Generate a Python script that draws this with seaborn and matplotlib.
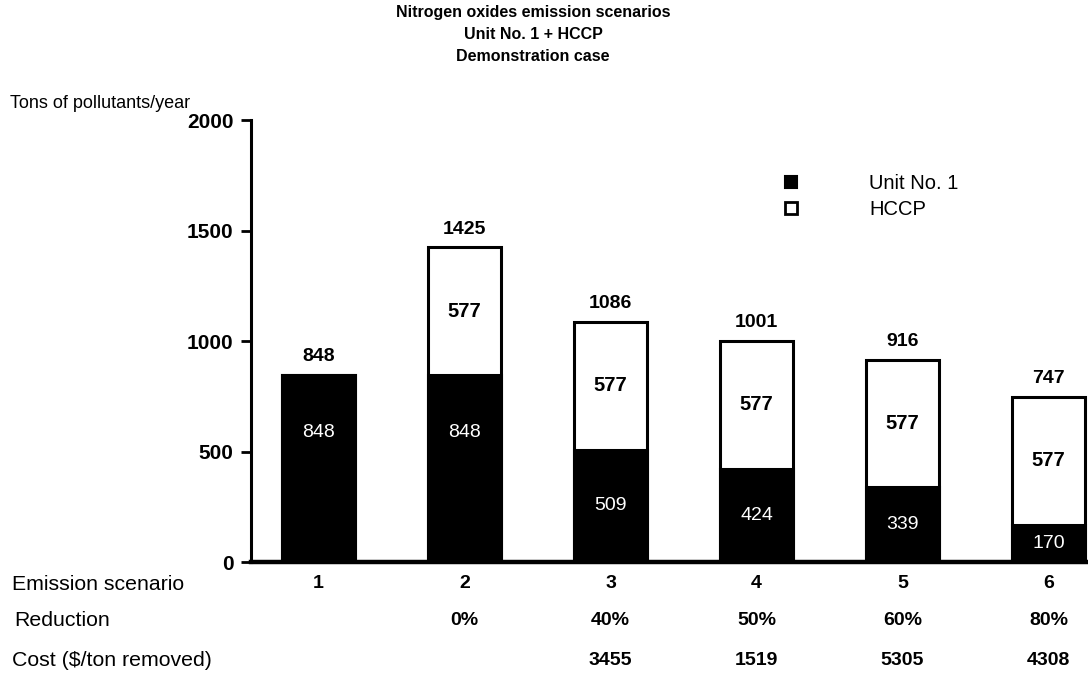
import matplotlib
matplotlib.use("Agg")
import matplotlib.pyplot as plt
from matplotlib.lines import Line2D
import seaborn as sns
import pandas as pd

# Scenario data (tons of NOx per year)
scenarios = ["1", "2", "3", "4", "5", "6"]
unit1 = [848, 848, 509, 424, 339, 170]
hccp = [0, 577, 577, 577, 577, 577]
reduction = ["", "0%", "40%", "50%", "60%", "80%"]
cost = ["", "", "3455", "1519", "5305", "4308"]

totals = [u + h for u, h in zip(unit1, hccp)]
df = pd.DataFrame({"scenario": scenarios, "unit1": unit1, "hccp": hccp, "total": totals})

sns.set_theme(style="white")
plt.rcParams["font.family"] = ["Liberation Sans", "DejaVu Sans"]
plt.rcParams["text.color"] = "black"
plt.rcParams["axes.labelcolor"] = "black"
plt.rcParams["xtick.color"] = "black"
plt.rcParams["ytick.color"] = "black"

fig = plt.figure(figsize=(10.88, 6.79), dpi=100)
ax = fig.add_axes([0.231, 0.172, 0.769, 0.651])

bar_w = 0.5
# Full stack height drawn as white outlined bars, Unit No. 1 overlaid in black
sns.barplot(data=df, x="scenario", y="total", color="white", edgecolor="black",
            linewidth=2.2, width=bar_w, saturation=1, ax=ax)
sns.barplot(data=df, x="scenario", y="unit1", color="black", edgecolor="black",
            linewidth=2.2, width=bar_w, saturation=1, ax=ax)

ax.set_ylim(0, 2000)
ax.set_xlim(-0.46, 5.27)
ax.set_yticks([0, 500, 1000, 1500, 2000])
ax.set_xlabel("")
ax.set_ylabel("")

for side in ["top", "right"]:
    ax.spines[side].set_visible(False)
ax.spines["left"].set_linewidth(2.2)
ax.spines["bottom"].set_linewidth(3.2)
ax.spines["left"].set_color("black")
ax.spines["bottom"].set_color("black")

ax.tick_params(axis="y", direction="out", length=7, width=2, color="black",
               labelsize=15, pad=6, left=True, labelcolor="black")
ax.tick_params(axis="x", length=0, labelsize=14, pad=9, labelcolor="black")
for lbl in ax.get_yticklabels() + ax.get_xticklabels():
    lbl.set_fontweight("bold")

# Value labels
for i, (u, h, t) in enumerate(zip(unit1, hccp, totals)):
    ax.annotate(str(t), (i, t), xytext=(0, 7), textcoords="offset points",
                ha="center", va="bottom", fontsize=14, fontweight="bold", color="black")
    u_y = u - 260 if u > 600 else u / 2
    ax.text(i, u_y, str(u), ha="center", va="center", fontsize=14, color="white")
    if h > 0:
        ax.text(i, u + h / 2, str(h), ha="center", va="center", fontsize=14.5,
                fontweight="bold", color="black")

# Table rows beneath the axis
xt = ax.get_xaxis_transform()
for i, (r, c) in enumerate(zip(reduction, cost)):
    ax.text(i, -0.131, r, transform=xt, ha="center", va="center", fontsize=14,
            fontweight="bold", color="black")
    ax.text(i, -0.222, c, transform=xt, ha="center", va="center", fontsize=14,
            fontweight="bold", color="black")

fig.text(0.011, 1 - 585 / 679, "Emission scenario", ha="left", va="center", fontsize=15.3)
fig.text(0.013, 1 - 620 / 679, "Reduction", ha="left", va="center", fontsize=15.3)
fig.text(0.011, 1 - 660 / 679, "Cost ($/ton removed)", ha="left", va="center", fontsize=15.3)

fig.text(0.009, 1 - 103 / 679, "Tons of pollutants/year", ha="left", va="center", fontsize=13)

fig.text(0.49, 1 - 5 / 679,
         "Nitrogen oxides emission scenarios\nUnit No. 1 + HCCP\nDemonstration case",
         ha="center", va="top", fontsize=11.5, fontweight="bold", linespacing=1.6)

handles = [
    Line2D([], [], marker="s", linestyle="none", markersize=9,
           markerfacecolor="black", markeredgecolor="black", markeredgewidth=1.5),
    Line2D([], [], marker="s", linestyle="none", markersize=9,
           markerfacecolor="white", markeredgecolor="black", markeredgewidth=2),
]
ax.legend(handles, ["Unit No. 1", "HCCP"], loc="upper left",
          bbox_to_anchor=(0.71, 1 - 166 / 679), bbox_transform=fig.transFigure,
          frameon=False, borderaxespad=0, handletextpad=3.4, labelspacing=0.35,
          fontsize=14.5, handlelength=1.0)

fig.savefig("out.png", dpi=100, facecolor="white")
